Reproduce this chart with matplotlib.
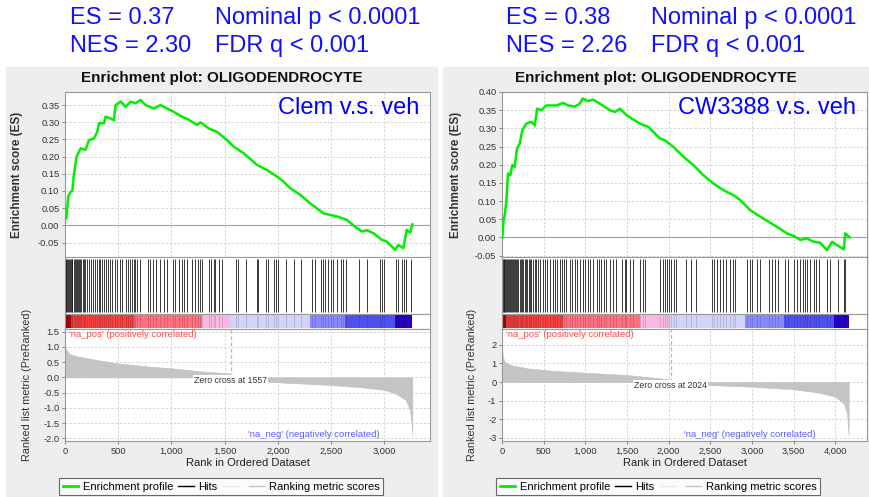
import numpy as np
import matplotlib.pyplot as plt
from matplotlib.patches import Rectangle
from matplotlib.lines import Line2D
from matplotlib.ticker import FuncFormatter
from matplotlib.transforms import blended_transform_factory

plt.rcParams['font.family'] = ['Liberation Sans', 'DejaVu Sans']

# ---------------- data ----------------
# Clem v.s. veh
clem_es_rank = [5, 12, 31, 53, 69, 84, 109, 147, 194, 225, 272, 303, 319, 366, 381, 428, 459, 475, 522, 569,
                616, 663, 709, 756, 834, 897, 959, 1022, 1100, 1147, 1241, 1272, 1350, 1428, 1522, 1584, 1678, 1803, 1897, 1991,
                2053, 2116, 2209, 2303, 2428, 2553, 2647, 2725, 2788, 2834, 2897, 2975, 3022, 3100, 3131, 3178, 3209, 3241, 3262]
clem_es = [0.02, 0.02, 0.084, 0.098, 0.10, 0.15, 0.20, 0.224, 0.22, 0.248, 0.253, 0.272, 0.297, 0.297, 0.316, 0.311, 0.306, 0.35, 0.36, 0.345,
           0.36, 0.355, 0.365, 0.35, 0.34, 0.35, 0.34, 0.33, 0.316, 0.31, 0.292, 0.30, 0.282, 0.272, 0.248, 0.229, 0.21, 0.176, 0.161, 0.142,
           0.127, 0.108, 0.089, 0.064, 0.035, 0.026, 0.016, -0.004, -0.018, -0.014, -0.023, -0.042, -0.047, -0.071, -0.057, -0.066, -0.013, -0.021, 0.003]
clem_hits = [5, 12, 20, 28, 35, 45, 55, 62, 70, 80, 92, 100, 110, 118, 130, 140, 150, 165, 175, 190, 205,
             230, 245, 262, 280, 300, 318, 330, 352, 368, 385, 400, 425, 445, 470, 490, 512, 535,
             570, 590, 610, 625, 645, 660, 680, 700, 775, 800, 830, 855, 890, 930, 955, 1010, 1035,
             1070, 1095, 1120, 1145, 1195, 1220, 1245, 1265, 1285, 1355, 1375, 1395, 1410, 1450, 1470,
             1605, 1628, 1700, 1805, 1815, 1885, 1910, 1962, 1985, 2003, 2075, 2150, 2215, 2320, 2345,
             2400, 2420, 2445, 2470, 2495, 2520, 2550, 2590, 2615, 2640, 2765, 2840, 2962, 2975, 3000,
             3105, 3128, 3165, 3185, 3205, 3250]
clem_metric_rank = [0, 5, 15, 40, 100, 300, 500, 800, 1000, 1300, 1556, 1558, 2000, 2500, 2800, 3000, 3100, 3200, 3240, 3255, 3262]
clem_metric = [1.0, 0.95, 0.9, 0.77, 0.70, 0.57, 0.46, 0.35, 0.30, 0.19, 0.13, -0.09, -0.16, -0.25, -0.33, -0.41, -0.52, -0.74, -1.07, -1.5, -1.89]
clem_band = [0, 53, 647, 1288, 1553, 2303, 2631, 3100, 3262]
clem_zero = 1557

# CW3388 v.s. veh
cw_es_rank = [4, 20, 36, 52, 72, 100, 124, 152, 180, 212, 244, 293, 353, 393, 421, 473, 533, 653, 733, 794,
              874, 934, 966, 1034, 1094, 1174, 1295, 1355, 1415, 1495, 1555, 1655, 1756, 1896, 1956, 2056, 2176, 2297, 2417, 2537,
              2657, 2778, 2858, 2978, 3098, 3198, 3299, 3419, 3499, 3579, 3659, 3740, 3820, 3900, 3960, 4020, 4100, 4120, 4172]
cw_es = [0.0, 0.048, 0.066, 0.10, 0.176, 0.171, 0.199, 0.194, 0.244, 0.258, 0.295, 0.313, 0.318, 0.308, 0.354, 0.35, 0.363, 0.363, 0.37, 0.363,
         0.36, 0.368, 0.382, 0.375, 0.379, 0.368, 0.35, 0.345, 0.354, 0.336, 0.327, 0.313, 0.304, 0.272, 0.267, 0.249, 0.222, 0.199, 0.171, 0.148,
         0.13, 0.116, 0.103, 0.075, 0.057, 0.043, 0.029, 0.011, 0.004, -0.007, -0.003, -0.012, -0.015, -0.035, -0.012, -0.021, -0.033, 0.011, 0.0]
cw_hits = [12, 20, 28, 38, 48, 58, 68, 80, 92, 105, 118, 130, 142, 155, 168, 180, 195, 210, 225, 240, 255, 270, 285,
           300, 318, 335, 352, 370, 390, 410, 430, 450, 495, 520, 545, 570, 615, 640, 665, 690, 715, 745, 770,
           815, 840, 870, 900, 930, 975, 1000, 1030, 1060, 1090, 1135, 1160, 1190, 1220, 1250, 1300, 1330, 1370,
           1440, 1470, 1490, 1540, 1570, 1660, 1690, 1712, 1900, 1930, 1955, 1980, 2005, 2030, 2060, 2090,
           2205, 2265, 2325, 2520, 2545, 2575, 2620, 2650, 2690, 2740, 2770, 2795, 2940, 2970, 2995, 3060, 3095,
           3200, 3235, 3280, 3315, 3400, 3435, 3500, 3535, 3580, 3610, 3635, 3660, 3695, 3740, 3770, 3798,
           3905, 3935, 4030, 4105, 4118]
cw_metric_rank = [0, 10, 30, 100, 300, 600, 1000, 1500, 1900, 2023, 2025, 2500, 3000, 3500, 3800, 4000, 4100, 4140, 4160]
cw_metric = [1.9, 1.37, 1.1, 0.92, 0.74, 0.61, 0.50, 0.38, 0.2, 0.13, -0.07, -0.16, -0.25, -0.39, -0.57, -0.79, -1.15, -1.69, -2.86]
cw_band = [0, 53, 733, 1655, 2016, 2918, 3378, 3979, 4165]
cw_zero = 2024

band_colors = ['#C00000', '#F84040', '#FF7080', '#F8B8E2', '#D2D2FA', '#8888FF', '#5050F0', '#2800C8']

W, H = 869, 497
fig = plt.figure(figsize=(W / 100, H / 100), dpi=100)
fig.patch.set_facecolor('white')


def box(x0, y0, x1, y1):
    return [x0 / W, 1 - y1 / H, (x1 - x0) / W, (y1 - y0) / H]


def ftext(x, y, s, **kw):
    return fig.text(x / W, 1 - y / H, s, **kw)


SPINE = '#9A9A9A'
GRID = '#D0D0D0'


def style(ax):
    for sp in ax.spines.values():
        sp.set_color(SPINE)
        sp.set_linewidth(0.8)
    ax.tick_params(colors='#777777', labelcolor='#333333', labelsize=6.7, length=2, width=0.6, pad=2)


def panel(gx0, gx1, ax0, ax1, xmax, es_rank, es, es_lim, es_ticks, hits,
          m_rank, m, m_lim, m_ticks, m_fmt, band, zero, label, ylab_es, ylab_m,
          header):
    # gray panel background
    fig.patches.append(Rectangle((gx0 / W, 0), (gx1 - gx0) / W, 1 - 67 / H,
                                 transform=fig.transFigure, color='#EEEEEE', zorder=-10))
    ftext((gx0 + gx1) / 2, 78, 'Enrichment plot: OLIGODENDROCYTE', ha='center', va='center',
          fontsize=11, fontweight='bold', color='#111111')

    # header stats in blue
    hx = header[0]
    for i, (dx, dy) in enumerate([(0, 18), (145, 18), (0, 46), (145, 46)]):
        ftext(hx + dx, dy, header[i + 1], fontsize=17, color='#1010FF', va='center')

    xticks = np.arange(0, xmax, 500)

    # enrichment score
    ax = fig.add_axes(box(ax0, 92, ax1, 257))
    style(ax)
    ax.set_xlim(0, xmax)
    ax.set_ylim(*es_lim)
    ax.set_yticks(es_ticks)
    ax.yaxis.set_major_formatter(FuncFormatter(lambda v, p: '%.2f' % v))
    ax.set_xticks(xticks)
    ax.tick_params(axis='x', length=0, labelbottom=False)
    ax.grid(True, ls=(0, (3, 2)), color=GRID, lw=0.6)
    ax.axhline(0, color='#A0A0A0', lw=0.8)
    ax.plot(es_rank, es, color='#00EE00', lw=1.8, zorder=3)
    ax.text(0.97, 0.90, label, transform=ax.transAxes, ha='right', va='center',
            fontsize=17, color='#0000FF')
    ax.set_ylabel('Enrichment score (ES)', fontsize=8.5, fontweight='bold', color='#333333')
    ax.yaxis.set_label_coords(ylab_es, 0.5)

    # hits
    axh = fig.add_axes(box(ax0, 257, ax1, 314))
    style(axh)
    axh.set_xlim(0, xmax)
    axh.set_ylim(0, 1)
    axh.set_xticks([])
    axh.set_yticks([])
    axh.vlines(hits, 0.03, 0.97, color='#1A1A1A', lw=0.6)

    # colour band
    axb = fig.add_axes(box(ax0, 314, ax1, 329))
    style(axb)
    axb.set_xlim(0, xmax)
    axb.set_ylim(0, 1)
    axb.set_xticks([])
    axb.set_yticks([])
    axb.bar(band[:-1], 0.92, width=np.diff(band), align='edge', bottom=0.04,
            color=band_colors, lw=0)
    axb.vlines(hits, 0.04, 0.96, color='black', lw=0.6, alpha=0.15)

    # ranked list metric
    axm = fig.add_axes(box(ax0, 329, ax1, 441))
    style(axm)
    axm.set_xlim(0, xmax)
    axm.set_ylim(*m_lim)
    axm.set_yticks(m_ticks)
    axm.yaxis.set_major_formatter(FuncFormatter(m_fmt))
    axm.set_xticks(xticks)
    axm.xaxis.set_major_formatter(FuncFormatter(lambda v, p: '{:,.0f}'.format(v)))
    axm.grid(True, ls=(0, (3, 2)), color=GRID, lw=0.6)
    axm.fill_between(m_rank, 0, m, color='#C4C4C4', lw=0.4, edgecolor='#BEBEBE', zorder=2)
    axm.plot([zero, zero], [0, m_lim[1]], ls=(0, (3, 2)), color='#B8B8B8', lw=0.9, zorder=3)
    zfrac = (0 - m_lim[0]) / (m_lim[1] - m_lim[0]) - 0.03
    tr = blended_transform_factory(axm.transData, axm.transAxes)
    axm.text(zero, zfrac, 'Zero cross at %d' % zero, transform=tr,
             ha='center', va='center', fontsize=6.3, color='#333333', zorder=4,
             bbox=dict(facecolor='white', edgecolor='none', pad=0.6))
    axm.text(0.01, 0.955, "'na_pos' (positively correlated)", transform=axm.transAxes,
             ha='left', va='center', fontsize=6.8, color='#FF4A4A')
    axm.text(0.5, 0.06, "'na_neg' (negatively correlated)", transform=axm.transAxes,
             ha='left', va='center', fontsize=6.8, color='#5A5AFF')
    axm.set_ylabel('Ranked list metric (PreRanked)', fontsize=7.8, color='#333333')
    axm.yaxis.set_label_coords(ylab_m, 0.5)
    axm.set_xlabel('Rank in Ordered Dataset', fontsize=8, color='#222222')
    axm.xaxis.set_label_coords(0.5, -0.15)

    # legend
    handles = [Line2D([], [], color='#00EE00', lw=2),
               Line2D([], [], color='black', lw=1),
               Line2D([], [], color='#EAEAEA', lw=1),
               Line2D([], [], color='#C4C4C4', lw=1)]
    labels = ['Enrichment profile', 'Hits', '', 'Ranking metric scores']
    cx = (ax0 - 65 + 221)
    leg = fig.legend(handles, labels, loc='center', bbox_to_anchor=(cx / W, 1 - 486.5 / H),
                     ncol=4, fontsize=8, frameon=True, fancybox=False, handlelength=1.4,
                     handletextpad=0.4, columnspacing=0.5, borderpad=0.35)
    leg.get_frame().set_edgecolor('#444444')
    leg.get_frame().set_linewidth(0.8)


panel(6, 437, 65, 430, 3428, clem_es_rank, clem_es, (-0.092, 0.388),
      np.arange(-0.05, 0.36, 0.05), clem_hits, clem_metric_rank, clem_metric,
      (-2.09, 1.59), np.arange(-2.0, 1.6, 0.5), lambda v, p: '%.1f' % v,
      clem_band, clem_zero, 'Clem v.s. veh', -0.115, -0.09,
      (70, 'ES = 0.37', 'Nominal p < 0.0001', 'NES = 2.30', 'FDR q < 0.001'))

panel(443, 869, 502, 867, 4380, cw_es_rank, cw_es, (-0.054, 0.40),
      np.arange(-0.05, 0.41, 0.05), cw_hits, cw_metric_rank, cw_metric,
      (-3.18, 2.86), np.arange(-3, 3, 1), lambda v, p: '%d' % v,
      cw_band, cw_zero, 'CW3388 v.s. veh', -0.11, -0.068,
      (506, 'ES = 0.38', 'Nominal p < 0.0001', 'NES = 2.26', 'FDR q < 0.001'))

fig.savefig('out.png', dpi=100)
